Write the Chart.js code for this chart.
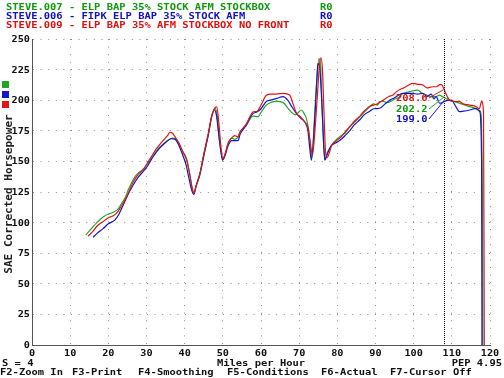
<!DOCTYPE html>
<html>
<head>
<meta charset="utf-8">
<script src="https://cdn.jsdelivr.net/npm/chart.js@4"></script>
<style>
  html, body { margin: 0; padding: 0; background: #fff; }
</style>
</head>
<body>
<canvas id="dynoChart" width="504" height="378"></canvas>
<script>
// run names and data (speed in mph, SAE hp)
const runNames = [
  "STEVE.007 - ELP BAP 35% STOCK AFM STOCKBOX",
  "STEVE.006 - FIPK ELP BAP 35% STOCK AFM",
  "STEVE.009 - ELP BAP 35% AFM STOCKBOX NO FRONT"
];
const runTags = ["R0", "R0", "R0"];

const steve007 = [
  [14.1,90],[15,93],[16,96.7],[17,100],[18.7,104.8],[20,107],[21.3,108.4],[22.5,111],[23.5,115.8],[24.5,121],
  [25.2,126.6],[26,132],[27,137.5],[28,141],[29.1,143],[30,147],[30.9,151],[32,156],[33.1,160.7],[34.5,164.5],
  [35.7,167.5],[36.8,169],[37.4,168.8],[38.7,163.4],[39.5,158],[40.5,152.5],[41.3,140],[42,127],[42.4,124],[43,130],
  [44,139],[45,154],[46.2,171.6],[47,185],[47.9,193.4],[48.5,188],[49,170],[49.5,158],[50,152],[50.6,156],
  [51.4,164.8],[52.3,168.9],[53.1,168],[54,170],[54.5,174],[55.5,177],[56.2,179.7],[57,184],[57.9,187],[59.2,186.5],
  [60,190],[61.4,196],[62.5,198],[64,199],[65.8,198],[67.1,193.4],[68,190],[69,188],[69.8,190],[70.6,192],
  [71.3,189],[71.9,185],[72.5,175],[73,160],[73.3,153],[74,185],[74.6,215],[75.2,234],[75.6,228],[76,195],
  [76.5,160],[76.8,152],[77.5,158],[78.5,163.4],[79.5,167],[80.2,169],[81,171],[82,173],[83.2,178.3],[84.5,182],
  [85.9,186.5],[87,190],[88.5,194.7],[89.5,197],[90.5,196],[91.1,198.8],[92,199],[93,198],[94,199],[95,201],
  [96,202],[97,205],[99,207],[101.1,208.3],[102,206],[103.3,204.2],[104.5,203],[105.9,203],[106.8,204.2],[107.5,203],
  [108,202.2],[109.4,200],[110.5,199],[112,197.5],[113.5,196],[114.7,194.7],[116,193.5],[116.8,192],[117.5,191],[118,120],
  [118.1,0]
];

const steve006 = [
  [16,88],[17,91],[18.7,95.3],[20,99],[21.7,102],[22.8,107],[23.9,114.4],[25,122],[26.5,130.7],[27.8,137],
  [29.1,141.6],[30,145],[31,150],[32,155],[33.5,161],[35,165.5],[36.5,168.5],[37.5,168],[38.5,163],[39.5,155],
  [40.3,148],[41,138],[41.8,127],[42.4,123],[43,130],[44,140],[45,155],[46.2,172],[47,186],[47.7,192],
  [48.3,188],[49,170],[49.5,158],[49.9,151],[50.6,155],[51.4,163],[52.3,167],[53.1,167],[54,167],[54.5,172],
  [55.5,177],[56.2,180],[57,185],[57.9,189],[59,190.5],[60,193],[61.4,199],[62.5,200],[64.1,201.5],[65.8,202.9],
  [67,200],[68,195],[69.3,189],[70.5,185],[71.5,182],[72.3,175],[72.8,160],[73.2,151],[74,180],[74.6,215],
  [74.9,230],[75.4,226],[75.9,200],[76.4,165],[76.7,151],[77.5,157],[78.5,163],[79.5,165],[80.6,167],[82,171],
  [83.2,175],[84.5,180],[85.9,184],[87,188],[88.5,191],[89.5,193],[91.1,193.4],[92.5,197],[93.7,200],[95,202],
  [96,204],[97.2,205.6],[99.8,205.6],[101,205],[102.4,205.6],[103.5,203],[104.6,205],[105.3,201],[105.9,203],[106.8,197.5],
  [107.5,198],[108,199],[109.9,200],[111,195],[112,190.6],[113,191],[114.7,192],[116.4,193.4],[117.3,190.6],[117.8,150],
  [117.9,0]
];

const steve009 = [
  [14.7,89],[16,93],[17,97],[18.7,101],[20,104],[21.3,105.5],[22.5,109],[23.5,114],[24.5,119],[25.5,126],
  [26.5,133],[27.5,138],[28.5,141.5],[29.5,145],[30.5,150],[31.5,155],[32.5,160],[33.5,164],[34.5,167.5],[35.5,171],
  [36.1,173.8],[36.8,173],[37.5,170],[38.5,165],[39.5,158],[40.5,151],[41.3,140],[42,128],[42.4,124],[43,130],
  [44,140],[45,156],[46.2,173],[47,186],[48,194],[48.4,194.6],[49,180],[49.5,162],[50,152],[50.6,156],
  [51.4,165],[52.3,169],[53.1,171],[54,170],[54.5,174],[55.5,178],[56.2,181],[57,186],[57.9,190.5],[59,191],
  [60,196],[61.4,204],[62.5,205],[64,205],[65.8,205.6],[67.5,204.2],[68.3,198],[69.3,189.3],[70.5,186],[71.5,182],
  [72.3,178],[72.8,168],[73.5,155],[74,170],[74.8,205],[75.3,228],[75.7,234.7],[76.1,225],[76.5,190],[76.9,158],
  [77.3,153],[78,158],[78.5,163],[79.5,166],[80.2,168],[81,170],[82,174],[83.2,178],[84.5,183],[85.9,187],
  [87,191],[88.5,195],[89.5,196],[90.5,197],[91.5,199],[92.5,201],[93.5,203],[94.6,204.2],[95.5,207],[96.5,209],
  [97.2,209.7],[98.5,212],[99.8,213.7],[101,213],[102.4,212.4],[103.5,210],[105,211],[106,211],[107,213],[107.5,212],
  [108,208.6],[108.8,203],[109.4,200],[110.5,199],[112,198.8],[113,197],[114.7,196],[116.4,194.7],[117.2,193],[117.8,199],
  [118.3,190],[118.5,0]
];

// cursor readout
const cursorSpeed = 108;
const cursorValues = ["208.6", "202.2", "199.0"];  // red, green, blue
const cursorHp = [208.6, 202.2, 199.0];

const GREEN = "#22a622";
const BLUE = "#1414d2";
const RED = "#e31414";
const TXT_GREEN = "#0e9a0e";
const TXT_BLUE = "#1010c8";
const TXT_RED = "#e01010";
const FONT = '"DejaVu Sans Mono", "Liberation Mono", monospace';

function toPoints(pairs) {
  return pairs.map(function(p) { return { x: p[0], y: p[1] }; });
}

// draws squat bitmap-like text by stretching a small mono font sideways
function putText(ctx, str, x, y, color, align, size, sx) {
  ctx.save();
  ctx.font = "bold " + size + "px " + FONT;
  ctx.fillStyle = color;
  ctx.textAlign = "left";
  ctx.textBaseline = "alphabetic";
  const w = ctx.measureText(str).width * sx;
  let x0 = x;
  if (align === "right") x0 = x - w;
  else if (align === "center") x0 = x - w / 2;
  ctx.translate(x0, y);
  ctx.scale(sx, 1);
  ctx.fillText(str, 0, 0);
  ctx.restore();
}

const dynoOverlay = {
  id: "dynoOverlay",
  afterDatasetsDraw(chart) {
    const ctx = chart.ctx;
    const xs = chart.scales.x;
    const ys = chart.scales.y;
    const area = chart.chartArea;

    // cursor line
    const cx = Math.round(xs.getPixelForValue(cursorSpeed)) + 0.5;
    ctx.save();
    ctx.strokeStyle = "#000";
    ctx.lineWidth = 1;
    ctx.setLineDash([1, 1]);
    ctx.beginPath();
    ctx.moveTo(cx, area.top);
    ctx.lineTo(cx, area.bottom);
    ctx.stroke();
    ctx.restore();

    // readout labels with leader lines
    const labelX = 396;
    const baselines = [101, 112, 122];
    const colors = [TXT_RED, TXT_GREEN, TXT_BLUE];
    const lineColors = [RED, GREEN, BLUE];
    for (let i = 0; i < 3; i++) {
      putText(ctx, cursorValues[i], labelX, baselines[i], colors[i], "left", 8.5, 1.23);
      ctx.save();
      ctx.strokeStyle = lineColors[i];
      ctx.lineWidth = 1;
      ctx.beginPath();
      ctx.moveTo(labelX + 33, baselines[i] - 3);
      ctx.lineTo(cx - 1, ys.getPixelForValue(cursorHp[i]));
      ctx.stroke();
      ctx.restore();
    }
  },
  afterDraw(chart) {
    const ctx = chart.ctx;
    const xs = chart.scales.x;
    const ys = chart.scales.y;

    // run list at the top
    const legendColors = [TXT_GREEN, TXT_BLUE, TXT_RED];
    for (let i = 0; i < runNames.length; i++) {
      putText(ctx, runNames[i], 6, 9.5 + i * 9, legendColors[i], "left", 8.5, 1.23);
      putText(ctx, runTags[i], 320, 9.5 + i * 9, legendColors[i], "left", 8.5, 1.23);
    }

    // colour keys
    ctx.fillStyle = GREEN; ctx.fillRect(2, 81, 7, 7);
    ctx.fillStyle = BLUE; ctx.fillRect(2, 91, 7, 7);
    ctx.fillStyle = RED; ctx.fillRect(2, 101, 7, 7);

    // tick labels from the library's scales
    ys.ticks.forEach(function(t) {
      putText(ctx, String(t.value), 30, ys.getPixelForValue(t.value) + 3, "#111", "right", 8.5, 1.2);
    });
    xs.ticks.forEach(function(t) {
      putText(ctx, String(t.value), xs.getPixelForValue(t.value), 356, "#111", "center", 8.5, 1.2);
    });

    // axis title (vertical)
    ctx.save();
    ctx.translate(11.5, 194);
    ctx.rotate(-Math.PI / 2);
    putText(ctx, "SAE Corrected Horsepower", 0, 0, "#222", "center", 10.5, 1.05);
    ctx.restore();

    // bottom status lines
    putText(ctx, "S = 4", 2, 366, "#111", "left", 8.5, 1.23);
    putText(ctx, "Miles per Hour", 261, 366, "#111", "center", 8.5, 1.23);
    putText(ctx, "PEP 4.95", 502, 366, "#111", "right", 8.5, 1.23);
    const keys = ["F2-Zoom In", "F3-Print", "F4-Smoothing", "F5-Conditions", "F6-Actual", "F7-Cursor Off"];
    const keyX = [0, 72, 138, 227, 321, 390];
    keys.forEach(function(k, i) {
      putText(ctx, k, keyX[i], 375, "#111", "left", 8.5, 1.23);
    });
  }
};

const gridDots = { color: "#8c8c8c", lineWidth: 1, drawTicks: false };

const chart = new Chart(document.getElementById("dynoChart").getContext("2d"), {
  type: "line",
  data: {
    datasets: [
      { label: runNames[2], data: toPoints(steve009), borderColor: RED, order: 0 },
      { label: runNames[1], data: toPoints(steve006), borderColor: BLUE, order: 1 },
      { label: runNames[0], data: toPoints(steve007), borderColor: GREEN, order: 2 }
    ]
  },
  options: {
    responsive: false,
    animation: false,
    devicePixelRatio: 1,
    parsing: false,
    layout: { padding: { top: 39, right: 14, left: 0, bottom: 0 } },
    elements: {
      point: { radius: 0 },
      line: { borderWidth: 1.2, cubicInterpolationMode: "monotone", fill: false }
    },
    plugins: {
      legend: { display: false },
      tooltip: { enabled: false }
    },
    scales: {
      x: {
        type: "linear",
        min: 0,
        max: 120,
        ticks: { stepSize: 10, display: false },
        grid: gridDots,
        border: { color: "#555", width: 1, dash: [1, 6.6] },
        afterFit: function(scale) { scale.height = 33; }
      },
      y: {
        type: "linear",
        min: 0,
        max: 250,
        ticks: { stepSize: 25, display: false },
        grid: gridDots,
        border: { color: "#555", width: 1, dash: [1, 6.6] },
        afterFit: function(scale) { scale.width = 32; }
      }
    }
  },
  plugins: [dynoOverlay]
});
</script>
</body>
</html>
